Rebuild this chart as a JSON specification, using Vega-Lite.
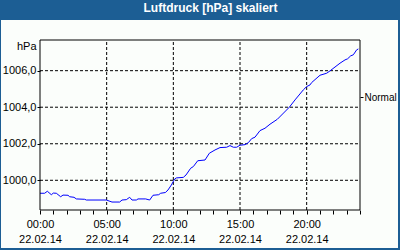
{
  "$schema": "https://vega.github.io/schema/vega-lite/v6.json",
  "width": 397,
  "height": 228,
  "autosize": "none",
  "padding": {"left": 1, "top": 20, "right": 2, "bottom": 2},
  "background": "#1C5E94",
  "config": {
    "view": {"fill": "#FBFEFB", "stroke": null},
    "font": "Liberation Sans",
    "axis": {"labelFont": "Liberation Sans", "labelFontSize": 11, "labelColor": "#000000", "tickColor": "#000000", "titleFont": "Liberation Sans", "titleColor": "#000000"}
  },
  "title": {"text": "Luftdruck [hPa] skaliert", "color": "#FFFFFF", "fontSize": 12, "fontWeight": "bold", "font": "Liberation Sans", "anchor": "middle", "frame": "group", "baseline": "alphabetic", "offset": 6, "dx": 11, "dy": 10},
  "datasets": {
    "druck": [
      {"stunde": 0.0, "hpa": 999.29}, {"stunde": 0.35, "hpa": 999.29}, {"stunde": 0.55, "hpa": 999.40}, {"stunde": 0.85, "hpa": 999.21},
      {"stunde": 1.0, "hpa": 999.30}, {"stunde": 1.225, "hpa": 999.29}, {"stunde": 1.55, "hpa": 999.10}, {"stunde": 1.725, "hpa": 999.19},
      {"stunde": 2.1, "hpa": 999.18}, {"stunde": 2.225, "hpa": 999.10}, {"stunde": 2.55, "hpa": 999.07}, {"stunde": 2.725, "hpa": 998.98},
      {"stunde": 3.35, "hpa": 998.96}, {"stunde": 3.475, "hpa": 998.92}, {"stunde": 4.975, "hpa": 998.92}, {"stunde": 5.4, "hpa": 998.81},
      {"stunde": 5.975, "hpa": 998.81}, {"stunde": 6.15, "hpa": 998.92}, {"stunde": 6.475, "hpa": 998.94}, {"stunde": 6.725, "hpa": 999.07},
      {"stunde": 6.9, "hpa": 998.92}, {"stunde": 7.225, "hpa": 998.92}, {"stunde": 7.35, "hpa": 998.98}, {"stunde": 7.925, "hpa": 998.98},
      {"stunde": 8.225, "hpa": 998.92}, {"stunde": 8.475, "hpa": 999.18}, {"stunde": 8.9, "hpa": 999.21}, {"stunde": 9.05, "hpa": 999.29},
      {"stunde": 9.4, "hpa": 999.33}, {"stunde": 9.6, "hpa": 999.47}, {"stunde": 9.85, "hpa": 999.74}, {"stunde": 10.1, "hpa": 1000.07},
      {"stunde": 10.225, "hpa": 1000.13}, {"stunde": 10.75, "hpa": 1000.16}, {"stunde": 10.95, "hpa": 1000.29}, {"stunde": 11.3, "hpa": 1000.66},
      {"stunde": 11.5, "hpa": 1000.75}, {"stunde": 11.83, "hpa": 1001.07}, {"stunde": 12.375, "hpa": 1001.11}, {"stunde": 12.7, "hpa": 1001.48},
      {"stunde": 13.125, "hpa": 1001.66}, {"stunde": 13.5, "hpa": 1001.79}, {"stunde": 14.0, "hpa": 1001.81}, {"stunde": 14.25, "hpa": 1001.90},
      {"stunde": 14.5, "hpa": 1001.81}, {"stunde": 14.75, "hpa": 1001.81}, {"stunde": 15.0, "hpa": 1001.92}, {"stunde": 15.375, "hpa": 1001.95},
      {"stunde": 15.625, "hpa": 1002.06}, {"stunde": 15.875, "hpa": 1002.28}, {"stunde": 16.125, "hpa": 1002.36}, {"stunde": 16.5, "hpa": 1002.72},
      {"stunde": 16.875, "hpa": 1002.85}, {"stunde": 17.25, "hpa": 1003.07}, {"stunde": 17.8, "hpa": 1003.34}, {"stunde": 18.7, "hpa": 1004.0},
      {"stunde": 19.125, "hpa": 1004.40}, {"stunde": 19.75, "hpa": 1004.95}, {"stunde": 20.0, "hpa": 1005.13}, {"stunde": 20.25, "hpa": 1005.22},
      {"stunde": 20.375, "hpa": 1005.35}, {"stunde": 21.0, "hpa": 1005.75}, {"stunde": 21.5, "hpa": 1005.86}, {"stunde": 21.75, "hpa": 1005.99},
      {"stunde": 22.5, "hpa": 1006.41}, {"stunde": 22.875, "hpa": 1006.59}, {"stunde": 23.07, "hpa": 1006.65}, {"stunde": 23.3, "hpa": 1006.81},
      {"stunde": 23.5, "hpa": 1006.87}, {"stunde": 23.75, "hpa": 1007.14}, {"stunde": 23.875, "hpa": 1007.19}
    ],
    "gitterX": [{"stunde": 5}, {"stunde": 10}, {"stunde": 15}, {"stunde": 20}],
    "gitterY": [{"hpa": 1000}, {"hpa": 1002}, {"hpa": 1004}, {"hpa": 1006}],
    "rahmen": [{}]
  },
  "resolve": {"axis": {"x": "independent", "y": "independent"}},
  "layer": [
    {
      "data": {"name": "gitterX"},
      "mark": {"type": "rule", "color": "#000000", "strokeWidth": 1, "strokeDash": [3, 2]},
      "encoding": {
        "x": {"field": "stunde", "type": "quantitative", "scale": {"domain": [-2.925, 26.85], "nice": false, "zero": false}, "axis": null},
        "y": {"datum": 998.374, "type": "quantitative", "scale": {"domain": [996.294, 1008.774], "nice": false, "zero": false}, "axis": null},
        "y2": {"datum": 1007.679}
      }
    },
    {
      "data": {"name": "gitterY"},
      "mark": {"type": "rule", "color": "#000000", "strokeWidth": 1, "strokeDash": [3, 2]},
      "encoding": {
        "y": {"field": "hpa", "type": "quantitative", "scale": {"domain": [996.294, 1008.774], "nice": false, "zero": false},
          "axis": {"orient": "right", "values": [1004.55], "labelExpr": "'Normal'", "offset": -38, "domain": false, "grid": false, "ticks": true, "tickSize": 3, "labelPadding": 1, "labelFontSize": 10, "title": null}},
        "x": {"datum": 0, "type": "quantitative", "scale": {"domain": [-2.925, 26.85], "nice": false, "zero": false}, "axis": null},
        "x2": {"datum": 24}
      }
    },
    {
      "data": {"name": "druck"},
      "mark": {"type": "line", "color": "#0000FF", "strokeWidth": 1},
      "encoding": {
        "x": {"field": "stunde", "type": "quantitative", "scale": {"domain": [-2.925, 26.85], "nice": false, "zero": false},
          "axis": {"orient": "bottom", "values": [0,1,2,3,4,5,6,7,8,9,10,11,12,13,14,15,16,17,18,19,20,21,22,23,24], "offset": -38, "domain": false, "grid": false, "tickSize": 4, "labelPadding": 4, "labelLineHeight": 15, "labelFlush": false, "labelOverlap": false,
            "labelExpr": "datum.value % 5 == 0 && datum.value < 24 ? [(datum.value < 10 ? '0' : '') + datum.value + ':00', '22.02.14'] : ''", "title": null}},
        "y": {"field": "hpa", "type": "quantitative", "scale": {"domain": [996.294, 1008.774], "nice": false, "zero": false},
          "axis": {"orient": "left", "values": [1000, 1002, 1004, 1006], "offset": -39, "domain": false, "grid": false, "tickSize": 3, "labelPadding": 1,
            "labelExpr": "replace(format(datum.value, '.1f'), '.', ',')",
            "title": "hPa", "titleAngle": 0, "titleAlign": "right", "titleBaseline": "middle", "titleX": -4, "titleY": 26, "titleFontSize": 11, "titleFontWeight": "normal"}}
      }
    },
    {
      "data": {"name": "rahmen"},
      "mark": {"type": "rule", "color": "#000000", "strokeWidth": 1},
      "encoding": {
        "x": {"datum": 0, "type": "quantitative", "scale": {"domain": [-2.925, 26.85], "nice": false, "zero": false}, "axis": null},
        "y": {"datum": 998.374, "type": "quantitative", "scale": {"domain": [996.294, 1008.774], "nice": false, "zero": false}, "axis": null},
        "y2": {"datum": 1007.679}
      }
    },
    {
      "data": {"name": "rahmen"},
      "mark": {"type": "rule", "color": "#000000", "strokeWidth": 1},
      "encoding": {
        "x": {"datum": 24, "type": "quantitative", "scale": {"domain": [-2.925, 26.85], "nice": false, "zero": false}, "axis": null},
        "y": {"datum": 998.374, "type": "quantitative", "scale": {"domain": [996.294, 1008.774], "nice": false, "zero": false}, "axis": null},
        "y2": {"datum": 1007.679}
      }
    },
    {
      "data": {"name": "rahmen"},
      "mark": {"type": "rule", "color": "#000000", "strokeWidth": 1},
      "encoding": {
        "y": {"datum": 998.374, "type": "quantitative", "scale": {"domain": [996.294, 1008.774], "nice": false, "zero": false}, "axis": null},
        "x": {"datum": 0, "type": "quantitative", "scale": {"domain": [-2.925, 26.85], "nice": false, "zero": false}, "axis": null},
        "x2": {"datum": 24}
      }
    },
    {
      "data": {"name": "rahmen"},
      "mark": {"type": "rule", "color": "#000000", "strokeWidth": 1},
      "encoding": {
        "y": {"datum": 1007.679, "type": "quantitative", "scale": {"domain": [996.294, 1008.774], "nice": false, "zero": false}, "axis": null},
        "x": {"datum": 0, "type": "quantitative", "scale": {"domain": [-2.925, 26.85], "nice": false, "zero": false}, "axis": null},
        "x2": {"datum": 24}
      }
    }
  ]
}
